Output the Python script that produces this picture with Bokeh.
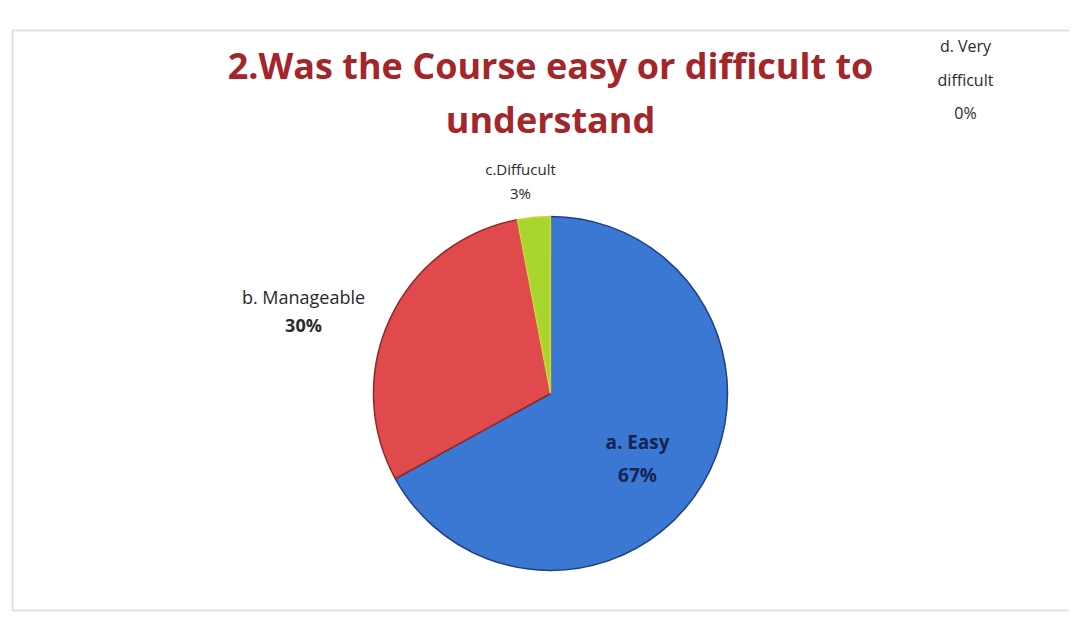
import numpy as np
from bokeh.plotting import figure
from bokeh.models import Range1d, ColumnDataSource, BoxAnnotation
from bokeh.core.properties import value
from bokeh.embed import file_html
from bokeh.resources import INLINE

# ---- data ----
categories = ["a. Easy", "b. Manageable", "c.Diffucult", "d. Very difficult"]
percents = [67, 30, 3, 0]
pct_labels = ["67%", "30%", "3%", "0%"]
title_lines = ["2.Was the Course easy or difficult to", "understand"]

# ---- styles / layout ----
fill_colors = ["#3b78d4", "#e04a4c", "#a9d62e", "#7f5fa8"]
edge_colors = ["#1d3f86", "#8c2a2a", "#d8d040", "#4d3a6a"]
W, H = 1069, 612
TOP = H  # data y = TOP - screen y
cx, cy, R = 550, TOP - 393, 177

p = figure(width=W, height=H, output_backend="svg", toolbar_location=None,
           x_range=Range1d(0, W), y_range=Range1d(0, H),
           min_border=0, outline_line_color=None)
p.axis.visible = False
p.grid.visible = False
p.background_fill_color = "white"
p.border_fill_color = "white"

# frame of the chart area (scanned chart border)
p.add_layout(BoxAnnotation(left=12, right=1090, bottom=2, top=TOP - 30,
                           fill_color=None, line_color="#9a9a9a", line_width=2))

vals = np.array(percents, dtype=float)
frac = vals / vals.sum()
cum = np.concatenate([[0], np.cumsum(frac)])
start = np.pi / 2 - cum[:-1] * 2 * np.pi
end = np.pi / 2 - cum[1:] * 2 * np.pi
keep = vals > 0

src = ColumnDataSource(dict(start=start[keep], end=end[keep],
                            fill=np.array(fill_colors)[keep].tolist(),
                            edge=np.array(edge_colors)[keep].tolist()))
p.wedge(x=cx, y=cy, radius=R, start_angle="start", end_angle="end", direction="clock",
        fill_color="fill", line_color="edge", line_width=1.5, source=src)

# title
font = value("Open Sans")
p.text(x=[550, 550], y=[TOP - 65, TOP - 119], text=title_lines, text_font=font,
       text_font_size="36px", text_font_style="bold", text_color="#a3262b",
       text_align="center", text_baseline="middle")

# data labels (name + percent)
lab_x = [637, 303, 520, 965]
lab_name_y = [441, 296, 168, 45]
lab_pct_y = [474, 324, 192, 112]
lab_colors = ["#14254f", "#2a2a2a", "#2a2a2a", "#2a2a2a"]
lab_sizes = ["19px", "18px", "15px", "16px"]
for i in range(4):
    name = categories[i]
    if i == 3:
        parts = ["d. Very", "difficult"]
        ys = [45, 79]
    else:
        parts = [name]
        ys = [lab_name_y[i]]
    for t, yy in zip(parts, ys):
        p.text(x=[lab_x[i]], y=[TOP - yy], text=[t], text_font=font,
               text_font_size=lab_sizes[i], text_color=lab_colors[i],
               text_align="center", text_baseline="middle",
               text_font_style="bold" if i == 0 else "normal")
    p.text(x=[lab_x[i]], y=[TOP - lab_pct_y[i]], text=[pct_labels[i]], text_font=font,
           text_font_size=lab_sizes[i], text_color=lab_colors[i],
           text_align="center", text_baseline="middle",
           text_font_style="bold" if i < 2 else "normal")

open("out.html", "w").write(file_html(p, INLINE))
